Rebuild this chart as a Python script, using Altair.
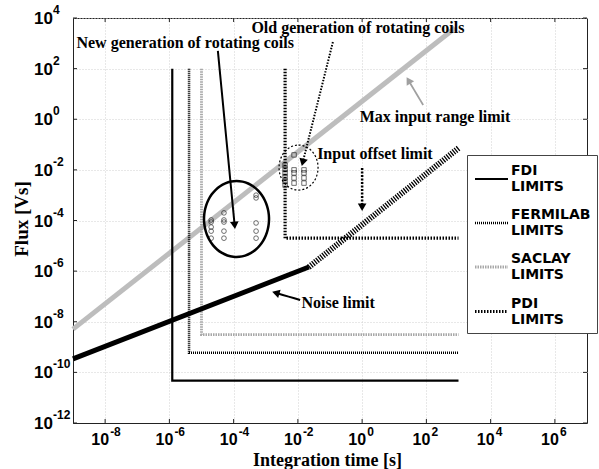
import math
import altair as alt
import pandas as pd

# ---------------- axes ----------------
X_DOMAIN = [1e-9, 1e7]
Y_DOMAIN = [1e-12, 1e4]
x_ticks = [1e-8, 1e-6, 1e-4, 1e-2, 1e0, 1e2, 1e4, 1e6]
x_tick_exp = ["-8", "-6", "-4", "-2", "0", "2", "4", "6"]
y_ticks = [1e-12, 1e-10, 1e-8, 1e-6, 1e-4, 1e-2, 1e0, 1e2, 1e4]
y_tick_exp = ["-12", "-10", "-8", "-6", "-4", "-2", "0", "2", "4"]
tick_base = "10"

# ---------------- limit curves ----------------
series_names = ["FDI LIMITS", "FERMILAB LIMITS", "SACLAY LIMITS", "PDI LIMITS"]
fdi_x = [1.23e-6, 1.23e-6, 1e3]
fdi_y = [1e2, 4.7e-11, 4.7e-11]
fermilab_x = [4.1e-6, 4.1e-6, 1e3]
fermilab_y = [1e2, 6.0e-10, 6.0e-10]
saclay_x = [1e-5, 1e-5, 1e3]
saclay_y = [1e2, 3.1e-9, 3.1e-9]
pdi_x = [4e-3, 4e-3, 1e3]
pdi_y = [1e2, 2.0e-5, 2.0e-5]

noise_x1 = [1e-9, 2.2e-2]
noise_y1 = [3.4e-10, 1.45e-6]
noise_x2 = [2.2e-2, 1e3]
noise_y2 = [1.45e-6, 7.2e-2]

range_x = [1e-9, 7.8e2]
range_y = [5.1e-9, 4e3]

# ---------------- measured points ----------------
new_x = [2e-5] * 5 + [5e-5] * 5 + [5e-4] * 5
new_y = [1.05e-4, 8.7e-5, 5.5e-5, 3.8e-5, 2.0e-5,
         2.0e-4, 1.05e-4, 8.7e-5, 3.8e-5, 2.0e-5,
         1.0e-3, 7.8e-4, 8.0e-5, 3.8e-5, 2.0e-5]
old_x = [4e-3] * 6 + [7.6e-3] * 5 + [1.55e-2] * 4
old_y = [1.55e-2, 1.07e-2, 7.6e-3, 5.2e-3, 3.6e-3, 2.5e-3,
         3.9e-2, 1.0e-2, 7.6e-3, 4.8e-3, 3.0e-3,
         1.0e-2, 7.6e-3, 4.8e-3, 3.0e-3]

# ---------------- annotations ----------------
ann_text = ["New generation of rotating coils", "Old generation of rotating coils",
            "Max input range limit", "Input offset limit", "Noise limit"]
ann_x = [3.1e-6, 0.74, 186, 2.5, 0.18]
ann_y = [1e3, 4e3, 1.2, 0.043, 5.5e-8]

arrow_x1 = [10 ** -4.49, 10 ** -0.91, 10 ** 1.9, 1.0, 10 ** -1.93]
arrow_y1 = [10 ** 2.70, 10 ** 3.05, 10 ** 0.56, 10 ** -1.93, 10 ** -7.14]
arrow_x2 = [10 ** -3.96, 10 ** -1.87, 10 ** 1.40, 1.0, 10 ** -2.77]
arrow_y2 = [10 ** -4.30, 10 ** -1.81, 10 ** 1.63, 10 ** -3.59, 10 ** -6.83]
arrow_color = ["black", "black", "#a0a0a0", "black", "black"]
arrow_dash = [[6, 0], [1.5, 1.5], [6, 0], [2, 1.5], [6, 0]]
arrow_width = [2, 2, 1.8, 2.5, 2]

ell_x = [1.23e-4, 1.05e-2]
ell_y = [1.15e-4, 1.23e-2]
ell_rx = [32.5, 19.5]
ell_ry = [38, 22.5]
ell_dash = [[6, 0], [2, 2]]
ell_width = [2.5, 1.2]

W, H = 514, 405
PXX = W / 16.0
PXY = H / 16.0

xscale = alt.Scale(type="log", domain=X_DOMAIN, nice=False)
yscale = alt.Scale(type="log", domain=Y_DOMAIN, nice=False)

xaxis = alt.Axis(values=x_ticks, labels=False, title="Integration time [s]",
                 grid=True, ticks=False, tickSize=0, titleX=W / 2 - 3, titleY=42,
                 titleBaseline="alphabetic", titleAlign="center", titleFontSize=18)
yaxis = alt.Axis(values=y_ticks, labels=False, title="Flux [Vs]", grid=True,
                 ticks=False, tickSize=0, titleX=-52, titleY=H / 2 - 2,
                 titleBaseline="middle", titleAlign="center", titleAngle=270)

X = alt.X("x:Q", scale=xscale, axis=xaxis)
Y = alt.Y("y:Q", scale=yscale, axis=yaxis)
Xn = alt.X("x:Q", scale=xscale)
Yn = alt.Y("y:Q", scale=yscale)

rows = []
for name, xs, ys in zip(series_names, [fdi_x, fermilab_x, saclay_x, pdi_x],
                        [fdi_y, fermilab_y, saclay_y, pdi_y]):
    for i, (a, b) in enumerate(zip(xs, ys)):
        rows.append({"series": name, "x": a, "y": b, "order": i})
limits_df = pd.DataFrame(rows)

LEG_FONT = "DejaVu Sans"
leg_expr = ("datum.label == 'PDI LIMITS' ? ['PDI', '\u00a0LIMITS'] : split(datum.label, ' ')")
leg = alt.Legend(title=None, orient="none", legendX=394, legendY=137, direction="vertical",
                 symbolType="stroke", symbolSize=1089, labelFont=LEG_FONT,
                 labelFontWeight="bold", labelFontSize=14, labelColor="black",
                 labelExpr=leg_expr, labelOffset=1, padding=6,
                 labelBaseline="line-bottom",
                 fillColor="white", strokeColor="#444", rowPadding=11, labelLimit=200)

limits = alt.Chart(limits_df).mark_line().encode(
    x=X, y=Y,
    color=alt.Color("series:N", scale=alt.Scale(domain=series_names,
                    range=["black", "black", "#a8a8a8", "black"]), legend=leg),
    strokeDash=alt.StrokeDash("series:N", scale=alt.Scale(domain=series_names,
                    range=[[6, 0], [1, 1], [1.5, 1], [1.5, 1.5]]), legend=leg),
    strokeWidth=alt.StrokeWidth("series:N", scale=alt.Scale(domain=series_names,
                    range=[2.2, 3.2, 2, 2.4]), legend=leg),
    order="order:Q",
)

range_line = alt.Chart(pd.DataFrame({"x": range_x, "y": range_y})).mark_line(
    color="#bdbdbd", strokeWidth=5).encode(x=Xn, y=Yn)
noise1 = alt.Chart(pd.DataFrame({"x": noise_x1, "y": noise_y1})).mark_line(
    color="black", strokeWidth=5).encode(x=Xn, y=Yn)
noise2 = alt.Chart(pd.DataFrame({"x": noise_x2, "y": noise_y2})).mark_line(
    color="black", strokeWidth=6, strokeDash=[1.3, 1.3]).encode(x=Xn, y=Yn)

circles = alt.Chart(pd.DataFrame({"x": new_x, "y": new_y})).mark_point(
    shape="circle", size=22, color="black", strokeWidth=0.8, filled=False).encode(x=Xn, y=Yn)
squares = alt.Chart(pd.DataFrame({"x": old_x, "y": old_y})).mark_point(
    shape="square", size=20, color="black", strokeWidth=0.8, filled=False).encode(x=Xn, y=Yn)

layers = [range_line, limits, noise1, noise2, circles, squares]

# tick labels: base "10" plus raised exponent
xt = pd.DataFrame({"x": x_ticks, "b": [tick_base] * len(x_ticks), "e": x_tick_exp})
yt = pd.DataFrame({"y": y_ticks, "b": [tick_base] * len(y_ticks), "e": y_tick_exp})
lab_font = dict(font="Liberation Sans", fontWeight="bold", color="black")
layers.append(alt.Chart(xt).mark_text(align="right", baseline="alphabetic", dx=4,
              fontSize=16, **lab_font).encode(x=alt.X("x:Q", scale=xscale),
              y=alt.value(H + 22), text="b:N"))
layers.append(alt.Chart(xt).mark_text(align="left", baseline="alphabetic", dx=5,
              fontSize=12, **lab_font).encode(x=alt.X("x:Q", scale=xscale),
              y=alt.value(H + 13), text="e:N"))
layers.append(alt.Chart(yt).mark_text(align="left", baseline="alphabetic", dy=6,
              fontSize=17, **lab_font).encode(y=alt.Y("y:Q", scale=yscale),
              x=alt.value(-39), text="b:N"))
layers.append(alt.Chart(yt).mark_text(align="left", baseline="alphabetic", dy=-4,
              fontSize=12, **lab_font).encode(y=alt.Y("y:Q", scale=yscale),
              x=alt.value(-20), text="e:N"))

# inward ticks on all four sides
tick_style = dict(color="#222", thickness=1, size=4, opacity=1)
layers.append(alt.Chart(xt).mark_tick(orient="vertical", **tick_style).encode(
    x=alt.X("x:Q", scale=xscale), y=alt.value(H - 2)))
layers.append(alt.Chart(xt).mark_tick(orient="vertical", **tick_style).encode(
    x=alt.X("x:Q", scale=xscale), y=alt.value(2)))
layers.append(alt.Chart(yt).mark_tick(orient="horizontal", **tick_style).encode(
    y=alt.Y("y:Q", scale=yscale), x=alt.value(2)))
layers.append(alt.Chart(yt).mark_tick(orient="horizontal", **tick_style).encode(
    y=alt.Y("y:Q", scale=yscale), x=alt.value(W - 2)))

k = 0.5523
for cx, cy, rx, ry, dash, wdt in zip(ell_x, ell_y, ell_rx, ell_ry, ell_dash, ell_width):
    a = rx / ry
    path = ("M0,-1 C{ka},-1 {a},{mk} {a},0 C{a},{k} {ka},1 0,1 "
            "C{mka},1 {ma},{k} {ma},0 C{ma},{mk} {mka},-1 0,-1 Z").format(
        ka=round(k * a, 4), a=round(a, 4), mk=-k, k=k, mka=round(-k * a, 4), ma=round(-a, 4))
    layers.append(alt.Chart(pd.DataFrame({"x": [cx], "y": [cy]})).mark_point(
        shape=path, size=(2 * ry) ** 2, filled=False, color="black", strokeWidth=wdt,
        strokeDash=dash, opacity=1).encode(x=Xn, y=Yn))

for x1, y1, x2, y2, col, dash, wdt in zip(arrow_x1, arrow_y1, arrow_x2, arrow_y2,
                                          arrow_color, arrow_dash, arrow_width):
    dx = (math.log10(x2) - math.log10(x1)) * PXX
    dy = -(math.log10(y2) - math.log10(y1)) * PXY
    ang = math.degrees(math.atan2(dx, -dy)) % 360
    L = math.hypot(dx, dy)
    back = 4.0
    hx = 10 ** (math.log10(x2) - dx / L * back / PXX)
    hy = 10 ** (math.log10(y2) + dy / L * back / PXY)
    layers.append(alt.Chart(pd.DataFrame({"x": [x1], "y": [y1], "x2": [hx], "y2": [hy]})).mark_rule(
        color=col, strokeWidth=wdt, strokeDash=dash).encode(
        x=Xn, y=Yn, x2="x2:Q", y2="y2:Q"))
    layers.append(alt.Chart(pd.DataFrame({"x": [hx], "y": [hy]})).mark_point(
        shape="triangle", size=75, filled=True, color=col, opacity=1, angle=ang).encode(x=Xn, y=Yn))

text = alt.Chart(pd.DataFrame({"x": ann_x, "y": ann_y, "t": ann_text})).mark_text(
    font="Liberation Serif", fontWeight="bold", fontSize=16, color="black",
    align="center", baseline="middle").encode(x=Xn, y=Yn, text="t:N")
layers.append(text)

chart = alt.layer(*layers).properties(
    width=W, height=H,
    autosize=alt.AutoSizeParams(type="none"),
    padding={"left": 73, "top": 18, "right": 12, "bottom": 46},
).configure_view(stroke="#222", strokeWidth=1).configure_axis(
    titleFont="Liberation Serif", titleFontWeight="bold", titleFontSize=19, titleColor="black",
    domainColor="#222", gridColor="#d0d0d0", gridDash=[1, 2], gridWidth=1,
).configure_legend(
    labelFont=LEG_FONT, labelFontWeight="bold", labelFontSize=14, labelColor="black",
    labelBaseline="line-bottom", rowPadding=11,
)

chart.save("out.html", embed_options={"renderer": "svg", "actions": False})
